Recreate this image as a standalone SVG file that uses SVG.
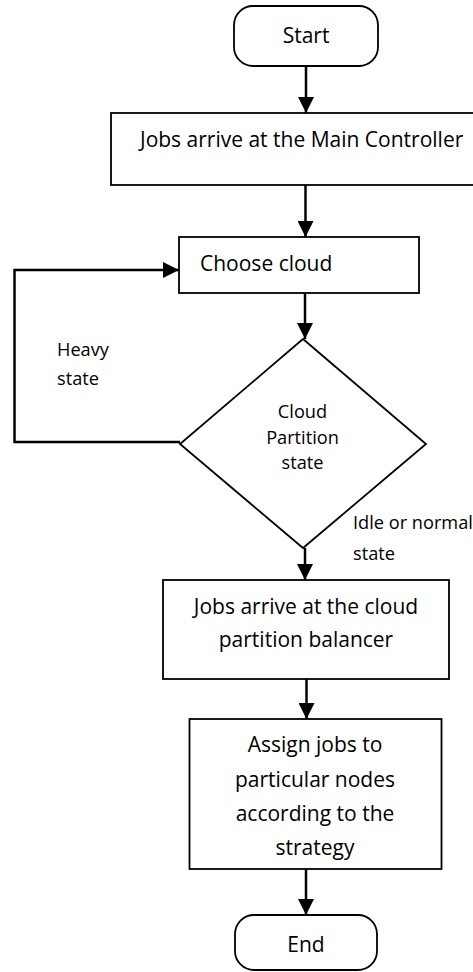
<svg xmlns="http://www.w3.org/2000/svg" width="473" height="972" viewBox="0 0 473 972">
<style>
  .box { fill: #ffffff; stroke: #000000; stroke-width: 1.8; }
  .conn { fill: none; stroke: #000000; stroke-width: 2.5; }
  .t { font-family: "Open Sans", "Noto Sans", sans-serif; font-size: 21px; fill: #000000; }
  .s { font-family: "Open Sans", "Noto Sans", sans-serif; font-size: 18.2px; fill: #000000; }
  .c { text-anchor: middle; }
</style>
<defs>
  <marker id="arr" viewBox="0 0 16 16" refX="16" refY="8" markerWidth="16" markerHeight="16" markerUnits="userSpaceOnUse" orient="auto">
    <path d="M0,0 L16,8 L0,16 Z" fill="#000000"/>
  </marker>
</defs>
<rect width="473" height="972" fill="#ffffff"/>

<g id="connectors">
  <line class="conn" x1="306" y1="66" x2="306" y2="113" marker-end="url(#arr)"/>
  <line class="conn" x1="305.5" y1="185" x2="305.5" y2="237" marker-end="url(#arr)"/>
  <line class="conn" x1="305" y1="293" x2="305" y2="339" marker-end="url(#arr)"/>
  <polyline class="conn" points="180,442 14.5,442 14.5,270 179,270" marker-end="url(#arr)"/>
  <line class="conn" x1="305" y1="548" x2="305" y2="580" marker-end="url(#arr)"/>
  <line class="conn" x1="306.5" y1="679" x2="306.5" y2="719" marker-end="url(#arr)"/>
  <line class="conn" x1="306" y1="869" x2="306" y2="915" marker-end="url(#arr)"/>
  <text class="s" x="57" y="356">Heavy</text>
  <text class="s" x="57" y="385">state</text>
  <text class="s" x="353" y="529">Idle or normal</text>
  <text class="s" x="353" y="560">state</text>
</g>

<g id="start">
  <rect class="box" x="234" y="6" width="144" height="60" rx="19" ry="19"/>
  <text class="t c" x="306" y="43">Start</text>
</g>

<g id="main-controller">
  <rect class="box" x="111" y="113" width="375" height="72"/>
  <text class="t" x="140" y="147">Jobs arrive at the Main Controller</text>
</g>

<g id="choose-cloud">
  <rect class="box" x="179" y="237" width="240" height="56"/>
  <text class="t" x="200" y="271">Choose cloud</text>
</g>

<g id="partition-state">
  <polygon class="box" points="303,339 426,444 303,548 180,444"/>
  <text class="s c" x="302.5" y="418">Cloud</text>
  <text class="s c" x="302.5" y="444">Partition</text>
  <text class="s c" x="302.5" y="469">state</text>
</g>

<g id="partition-balancer">
  <rect class="box" x="163" y="580" width="286" height="99"/>
  <text class="t c" x="306" y="614">Jobs arrive at the cloud</text>
  <text class="t c" x="306" y="647">partition balancer</text>
</g>

<g id="assign-jobs">
  <rect class="box" x="189.5" y="719" width="252" height="150"/>
  <text class="t c" x="315" y="752">Assign jobs to</text>
  <text class="t c" x="315" y="786.5">particular nodes</text>
  <text class="t c" x="315" y="821">according to the</text>
  <text class="t c" x="315" y="855">strategy</text>
</g>

<g id="end">
  <rect class="box" x="235" y="915" width="142" height="55" rx="19" ry="19"/>
  <text class="t c" x="306" y="952">End</text>
</g>
</svg>
